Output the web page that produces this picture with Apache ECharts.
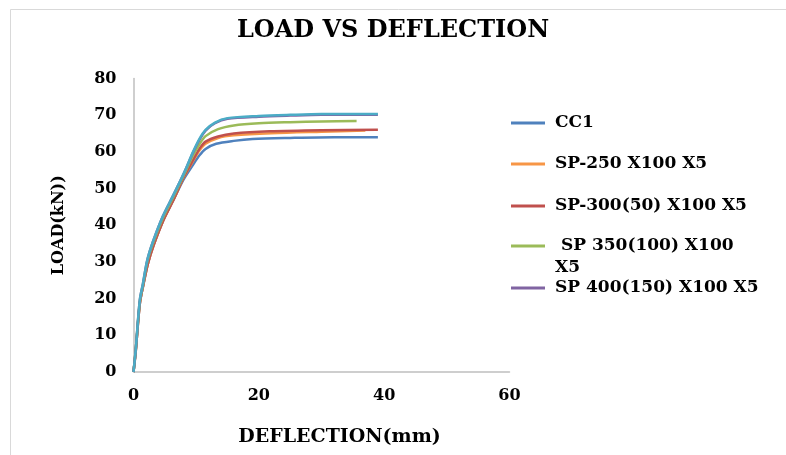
<!DOCTYPE html>
<html>
<head>
<meta charset="utf-8">
<script src="https://cdn.jsdelivr.net/npm/echarts@6/dist/echarts.min.js"></script>
<style>html,body{margin:0;padding:0;background:#fff;}#c{width:786px;height:455px;}</style>
</head>
<body>
<div id="c"></div>
<script>
const seriesNames = ['CC1', 'SP-250 X100 X5', 'SP-300(50) X100 X5', ' SP 350(100) X100\nX5', 'SP 400(150) X100 X5', 'Series6'];
const seriesColors = ['#4F81BD', '#F79646', '#C0504D', '#9BBB59', '#8064A2', '#4BACC6'];
const xTicks = [0, 20, 40, 60];
const yTicks = [0, 10, 20, 30, 40, 50, 60, 70, 80];

const cc1 = [[0,0],[0.35,5.5],[1.0,18.5],[1.6,24],[2.3,29.5],[3.2,34.5],[4.8,41.5],[6.4,47],[8,52.5],[9.5,56.5],[10.5,59],[11.5,60.8],[13.2,62.2],[16,63],[19,63.5],[25,63.8],[32,64],[39,64]];
const sp250 = [[0,0],[0.35,5.5],[1.0,18.5],[1.6,24],[2.3,29.5],[3.2,34.5],[4.8,41.5],[6.4,47],[8,53],[9.5,57.5],[10.5,60.3],[11.5,62.2],[13.5,63.8],[16,64.5],[22,65.1],[30,65.5],[37,65.8]];
const sp300 = [[0,0],[0.35,5.5],[1.0,18.5],[1.6,24],[2.3,29.5],[3.2,34.5],[4.8,41.5],[6.4,47],[8,53],[9.5,57.8],[10.5,60.8],[11.5,62.8],[13.5,64.2],[16,65],[21.7,65.6],[30,65.9],[39,66]];
const sp350 = [[0,0],[0.35,6],[1.0,19],[1.5,23.5],[2.2,30],[3.1,35],[4.7,42],[6.3,47.5],[8,53.5],[9.5,59],[10.5,62],[11.5,64.3],[13.5,66.2],[16,67.2],[20,67.8],[25,68.1],[30,68.3],[35.6,68.4]];
const sp400 = [[0,0],[0.35,6],[1.0,19.5],[1.5,24],[2.2,30.5],[3.1,35.5],[4.7,42.5],[6.3,48],[8,54],[9.5,59.8],[10.5,63.2],[11.5,65.8],[13,67.8],[15,69],[20,69.6],[25,69.9],[30,70.1],[39,70.1]];
const series6 = [[0,0],[0.35,6],[1.0,19.5],[1.5,24],[2.2,30.5],[3.1,35.5],[4.7,42.5],[6.3,48],[8,54],[9.5,60],[10.5,63.5],[11.5,66],[13,68],[15,69.2],[20,69.8],[25,70.1],[30,70.3],[39,70.3]];
const allData = [cc1, sp250, sp300, sp350, sp400, series6];

const FONT = 'DejaVu Serif';
const legendTops = [112, 153, 195, 213, 277];

const chart = echarts.init(document.getElementById('c'));
const legends = [0,1,2,3,4].map(function (i) {
  return {
    data: [seriesNames[i]],
    orient: 'vertical',
    left: 511,
    top: legendTops[i],
    padding: 0,
    icon: 'rect',
    itemWidth: 34,
    itemHeight: 3,
    formatter: i === 3 ? function (n) { return '\n' + n; } : undefined,
    textStyle: { fontFamily: FONT, fontWeight: 'bold', fontSize: 17, color: '#000', lineHeight: 22, padding: [0,0,0,5] }
  };
});

chart.setOption({
  backgroundColor: '#fff',
  animation: false,
  title: {
    text: 'LOAD VS DEFLECTION',
    left: 'center',
    top: 19,
    padding: [0, 0, 0, 18],
    textStyle: { fontFamily: FONT, fontWeight: 'bold', fontSize: 24, color: '#000' }
  },
  legend: legends,
  grid: { left: 133.5, right: 276.5, top: 78.5, bottom: 83, containLabel: false },
  xAxis: {
    type: 'value', min: xTicks[0], max: xTicks[xTicks.length - 1], interval: 20,
    name: 'DEFLECTION(mm)', nameLocation: 'middle', nameGap: 56,
    nameTextStyle: { fontFamily: FONT, fontWeight: 'bold', fontSize: 19, color: '#000', padding: [0, 0, 0, 36] },
    axisLine: { lineStyle: { color: '#BFBFBF', width: 1.5 } },
    axisTick: { show: false },
    splitLine: { show: false },
    axisLabel: { fontFamily: FONT, fontWeight: 'bold', fontSize: 16, color: '#000', margin: 16 }
  },
  yAxis: {
    type: 'value', min: yTicks[0], max: yTicks[yTicks.length - 1], interval: 10,
    name: 'LOAD(kN))', nameLocation: 'middle', nameGap: 67,
    nameTextStyle: { fontFamily: FONT, fontWeight: 'bold', fontSize: 16, color: '#000' },
    axisLine: { show: true, lineStyle: { color: '#BFBFBF', width: 1.5 } },
    axisTick: { show: false },
    splitLine: { show: false },
    axisLabel: { fontFamily: FONT, fontWeight: 'bold', fontSize: 16, color: '#000', margin: 17 }
  },
  graphic: [
    { type: 'line', shape: { x1: 10.5, y1: 9.5, x2: 786, y2: 9.5 }, style: { stroke: '#D9D9D9', lineWidth: 1 }, silent: true },
    { type: 'line', shape: { x1: 10.5, y1: 9.5, x2: 10.5, y2: 455 }, style: { stroke: '#D9D9D9', lineWidth: 1 }, silent: true }
  ],
  series: allData.map(function (d, i) {
    return {
      name: seriesNames[i], type: 'line', data: d, showSymbol: false, symbol: 'none',
      smooth: 0.3, lineStyle: { color: seriesColors[i], width: 2.5 },
      itemStyle: { color: seriesColors[i] }, z: 2 + i
    };
  })
});
</script>
</body>
</html>
